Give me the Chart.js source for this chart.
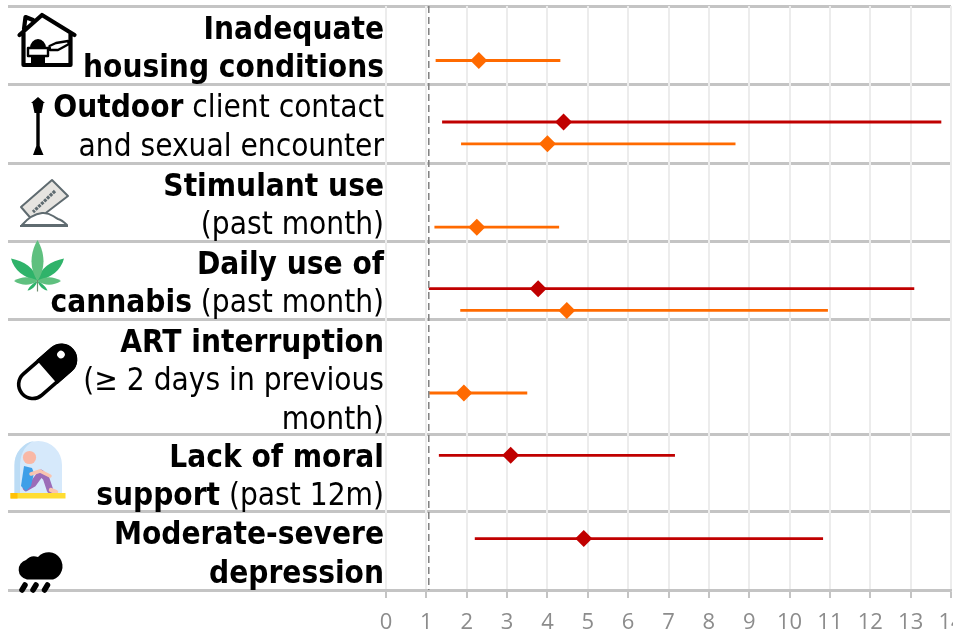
<!DOCTYPE html>
<html>
<head>
<meta charset="utf-8">
<title>Forest plot</title>
<script src="https://cdn.jsdelivr.net/npm/chart.js@4"></script>
<style>
  html, body { margin: 0; padding: 0; background: #fff; overflow: hidden; }
  #wrap { position: relative; width: 953px; height: 633px; overflow: hidden; }
  #icons { position: absolute; left: 0; top: 0; pointer-events: none; }
</style>
</head>
<body>
<div id="wrap">
  <canvas id="forest" width="953" height="633"></canvas>
  <!-- row icons -->
  <svg id="icons" width="953" height="633" viewBox="0 0 953 633">
    <!-- house -->
    <g fill="none" stroke="#000" stroke-width="4.2" stroke-linejoin="round" stroke-linecap="round">
      <path d="M19.5 35 L42 15 L74.5 35 M23.5 33 V65 H70.5 V33 M24 29 L25.5 17 L33 20"/>
      <rect x="28" y="48" width="20" height="8" fill="#fff" stroke-width="2.4"/>
      <path d="M49.5 46 L56 43 L68 41 L69 44 L58 50 L50 50 Z" fill="#fff" stroke-width="2.4"/>
    </g>
    <path d="M30 48 a8 9 0 0 1 16 0 Z M31 56 H45 V65 H31 Z" fill="#000"/>
    <!-- street lamp -->
    <path d="M38 97 L45 103 H43.5 L41.5 113 H39.7 V146 L43.5 155 H33 L36.3 146 V113 H34.5 L32.5 103 H31 Z" fill="#000"/>
    <!-- razor and powder -->
    <g stroke="#5f6b70" stroke-width="2" stroke-linejoin="round">
      <path d="M52 180 L68 196 L34 222 L21 207 Z" fill="#e6e4e0"/>
      <path d="M55 191 L33 212" stroke-width="3.2" stroke-dasharray="3 1" fill="none"/>
      <path d="M22 225 C28 218 34 214 42 213 C50 212 52 216 58 219 C62 220 64 222 67 225 Z" fill="#fff"/>
      <path d="M20 226 H68" fill="none"/>
    </g>
    <!-- cannabis leaf -->
    <g fill="#2fb36a">
      <path d="M37.5 281 C24 278 14 270 11 258.5 C24 261 35 268 37.5 281 Z"/>
      <path d="M37.5 281 C51 278 61 270 64 258.5 C51 261 40 268 37.5 281 Z"/>
      <path d="M37.5 281 C33 283 29 287 27.5 290.5 C32 290 36 286 37.5 281 Z"/>
      <path d="M37.5 281 C42 283 46 287 47.5 290.5 C43 290 39 286 37.5 281 Z"/>
    </g>
    <g fill="#5fc07f">
      <path d="M37.5 240 C29 255 30 270 37.5 281 C45 270 46 255 37.5 240 Z"/>
      <path d="M37.5 281 C30 276 22 276 14 281 C22 286 30 286 37.5 281 Z"/>
      <path d="M37.5 281 C45 276 53 276 61 281 C53 286 45 286 37.5 281 Z"/>
    </g>
    <path d="M37.5 280 V291.5" stroke="#6f8f6f" stroke-width="1.2"/>
    <!-- pill -->
    <g transform="rotate(-41 47 372)">
      <rect x="14" y="358" width="66" height="28" rx="14" fill="#fff" stroke="#000" stroke-width="3.6"/>
      <path d="M47 356 H66 a16 16 0 0 1 0 32 H47 Z" fill="#000"/>
      <circle cx="69" cy="368" r="3.8" fill="#fff"/>
    </g>
    <!-- person under dome -->
    <path d="M14.5 493 V465 A23.7 24 0 0 1 62 465 V493 Z" fill="#d6e9fb"/>
    <path d="M14.5 493 V465 A23.7 24 0 0 1 34 441 C23 446 20 456 20 468 V493 Z" fill="#bcdcf5"/>
    <circle cx="29.5" cy="457.5" r="6.6" fill="#f9b8a6"/>
    <g fill="none" stroke-linecap="round" stroke-linejoin="round">
      <path d="M26 488 L33 484 L41 473 L46 478 L50 490" stroke="#9b6cb8" stroke-width="6.5"/>
      <path d="M51 490 L56 492" stroke="#f9c4b0" stroke-width="4.5"/>
    </g>
    <path d="M24 466 L32 468 L34 473 L31 486 L26 491 L21 486 Z" fill="#3f9fe8"/>
    <path d="M31 474 L40 471 L50 476" fill="none" stroke="#f9c4b0" stroke-width="3.5" stroke-linecap="round" stroke-linejoin="round"/>
    <rect x="10.5" y="493" width="55" height="5.5" fill="#ffdd33"/>
    <rect x="10.5" y="493" width="7" height="5.5" fill="#ffc107"/>
    <!-- rain cloud -->
    <path d="M27 579.5 A10 10 0 0 1 26 560 A11 11 0 0 1 38 557 A14 14 0 1 1 53 579.5 Z" fill="#000"/>
    <path d="M25 585 L22 590 M36 585 L33 590 M47.5 585 L44.5 590" stroke="#000" stroke-width="5.5" stroke-linecap="round"/>
  </svg>
</div>
<script>
// 행 경계 (y축 단위)
const rowEdges = [0, 1.01, 2.02, 3.02, 4.02, 5.5, 6.49, 7.5];
const xMax = 14;
const refValue = 1.06;

// 주황 계열
const orangeRows = [0.7, 1.77, 2.84, 3.91, 4.97];
const orangeLow = [1.23, 1.86, 1.2, 1.84, 1.07];
const orangeMid = [2.3, 4.0, 2.25, 4.48, 1.93];
const orangeHigh = [4.32, 8.66, 4.29, 10.95, 3.5];

// 빨강 계열
const redRows = [1.49, 3.63, 5.77, 6.84];
const redLow = [1.39, 1.06, 1.31, 2.2];
const redMid = [4.4, 3.77, 3.09, 4.9];
const redHigh = [13.76, 13.09, 7.16, 10.83];

// 행 라벨: [글자, 굵게]
const rowLabels = [
  [[["Inadequate", true]], [["housing conditions", true]]],
  [[["Outdoor", true], [" client contact", false]], [["and sexual encounter", false]]],
  [[["Stimulant use", true]], [["(past month)", false]]],
  [[["Daily use of", true]], [["cannabis", true], [" (past month)", false]]],
  [[["ART interruption", true]], [["(≥ 2 days in previous", false]], [["month)", false]]],
  [[["Lack of moral", true]], [["support", true], [" (past 12m)", false]]],
  [[["Moderate-severe", true]], [["depression", true]]],
];

const labelFont = "'DejaVu Sans Condensed', 'DejaVu Sans'";

// 신뢰구간 선 + 마름모 데이터셋 생성
function buildSeries(rows, low, mid, high, color) {
  const sets = [];
  rows.forEach((y, i) => {
    sets.push({
      data: [{ x: low[i], y: y }, { x: high[i], y: y }],
      borderColor: color,
      borderWidth: 2.8,
      pointRadius: 0,
      showLine: true,
    });
    sets.push({
      data: [{ x: mid[i], y: y }],
      backgroundColor: color,
      borderColor: color,
      pointStyle: "rectRot",
      pointRadius: 8.5,
      borderWidth: 0,
      showLine: false,
    });
  });
  return sets;
}

// 왼쪽 라벨 그리기
const rowLabelPlugin = {
  id: "rowLabels",
  afterDraw(chart) {
    const ctx = chart.ctx;
    const yScale = chart.scales.y;
    ctx.save();
    ctx.fillStyle = "#000";
    ctx.textBaseline = "alphabetic";
    ctx.textAlign = "left";
    rowLabels.forEach((lines, r) => {
      const top = yScale.getPixelForValue(rowEdges[r]);
      lines.forEach((parts, l) => {
        let width = 0;
        parts.forEach((p) => {
          ctx.font = `${p[1] ? "bold " : ""}31.3px ${labelFont}`;
          width += ctx.measureText(p[0]).width;
        });
        let x = 384 - width;
        const y = top + 32.8 + l * 38.4;
        parts.forEach((p) => {
          ctx.font = `${p[1] ? "bold " : ""}31.3px ${labelFont}`;
          ctx.fillText(p[0], x, y);
          x += ctx.measureText(p[0]).width;
        });
      });
    });
    ctx.restore();
  },
};

const datasets = [
  {
    data: [{ x: refValue, y: rowEdges[0] }, { x: refValue, y: rowEdges[rowEdges.length - 1] }],
    borderColor: "#808080",
    borderWidth: 1.5,
    borderDash: [7, 4],
    pointRadius: 0,
    showLine: true,
  },
  ...buildSeries(orangeRows, orangeLow, orangeMid, orangeHigh, "#ff6a00"),
  ...buildSeries(redRows, redLow, redMid, redHigh, "#c00000"),
];

new Chart(document.getElementById("forest"), {
  type: "scatter",
  data: { datasets: datasets },
  plugins: [rowLabelPlugin],
  options: {
    responsive: false,
    animation: false,
    layout: { autoPadding: false, padding: { left: 8, top: 6, right: 2, bottom: 0 } },
    plugins: { legend: { display: false }, tooltip: { enabled: false } },
    scales: {
      x: {
        type: "linear",
        min: 0,
        max: xMax,
        afterFit(scale) {
          scale.paddingRight = 0;
          scale.height = 43;
        },
        grid: {
          color: "#ececec",
          lineWidth: 2,
          tickColor: "#c4c4c4",
          tickLength: 8,
          tickWidth: 2,
          z: -1,
        },
        border: { color: "#c4c4c4", width: 2.5 },
        ticks: {
          stepSize: 1,
          autoSkip: false,
          maxRotation: 0,
          padding: 12,
          color: "#8c8c8c",
          font: { family: "'Open Sans'", size: 22 },
        },
      },
      y: {
        type: "linear",
        reverse: true,
        min: rowEdges[0],
        max: rowEdges[rowEdges.length - 1],
        afterBuildTicks(scale) {
          scale.ticks = rowEdges.map((v) => ({ value: v }));
        },
        grid: {
          color: "#c4c4c4",
          lineWidth: 3,
          tickColor: "#c4c4c4",
          tickLength: 378,
          tickWidth: 3,
          z: -2,
        },
        border: { display: false },
        ticks: { display: false },
      },
    },
  },
});
</script>
</body>
</html>
